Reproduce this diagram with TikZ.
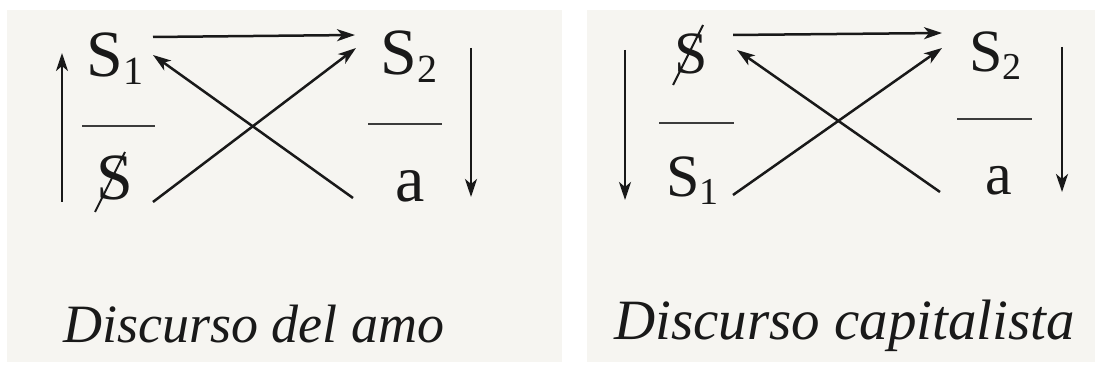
\documentclass[tikz,border=0pt]{standalone}
\usepackage{fontspec}
\setmainfont{Liberation Serif}
\usetikzlibrary{arrows.meta,calc}
\definecolor{paper}{RGB}{246,245,241}
\definecolor{inkc}{RGB}{25,25,25}
\newcommand\lacsubL[1]{\raisebox{-4pt}{\fontsize{20pt}{20pt}\selectfont #1}}
\newcommand\lacsubR[1]{\raisebox{-4pt}{\fontsize{19pt}{19pt}\selectfont #1}}
\begin{document}
\begin{tikzpicture}[x=0.5pt,y=-0.5pt,
  symL/.style={inner sep=0pt, anchor=base west, text=inkc, font=\fontsize{33pt}{33pt}\selectfont},
  symR/.style={inner sep=0pt, anchor=base west, text=inkc, font=\fontsize{30pt}{30pt}\selectfont},
  capL/.style={inner sep=0pt, anchor=base west, text=inkc, font=\fontsize{27pt}{27pt}\selectfont\itshape},
  capR/.style={inner sep=0pt, anchor=base west, text=inkc, font=\fontsize{28.5pt}{28.5pt}\selectfont\itshape},
  arr/.style={draw=inkc, line width=1.25pt, -{Stealth[length=9pt,width=6pt,inset=2.5pt]}},
  bar/.style={draw=inkc!85, line width=1.3pt},
  slash/.style={draw=inkc, line width=1pt}]
\useasboundingbox (0,0) rectangle (1095,367);
\fill[white] (0,0) rectangle (1095,367);
\fill[paper] (7,10) rectangle (562,362);
\fill[paper] (587,10) rectangle (1095,362);

% ---------- Discurso del amo ----------
\node[symL] (s1L) at (86,77) {S\lacsubL{1}};
\node[symL] (s2L) at (380,75) {S\lacsubL{2}};
\node[symL] (bsL) at (96,200) {S};
\node[symL] (aL) at (395,202) {a};
\draw[slash] ([shift={(-1,12)}]bsL.base west) -- ([shift={(29,-48)}]bsL.base west);
\draw[bar] (82,126) -- (155,126);
\draw[bar] (368,124) -- (442,124);
\draw[arr] ([shift={(67,-40)}]s1L.base west) -- ([shift={(-25,-40)}]s2L.base west);
\draw[arr] ([shift={(57,2)}]bsL.base west) -- ([shift={(-24,-27)}]s2L.base west);
\draw[arr] ([shift={(-42,-4)}]aL.base west) -- ([shift={(67,-22)}]s1L.base west);
\coordinate (upL0) at (62,202);
\coordinate (upL1) at (62,53);
\draw[arr] (upL0) -- (upL1);
\coordinate (dnL0) at (471,48);
\coordinate (dnL1) at (471,197);
\draw[arr] (dnL0) -- (dnL1);
\node[capL] (capL) at (63,343) {Discurso del amo};

% ---------- Discurso capitalista ----------
\node[symR] (bsR) at (674,74) {S};
\node[symR] (s2R) at (969,72) {S\lacsubR{2}};
\node[symR] (s1R) at (666,197) {S\lacsubR{1}};
\node[symR] (aR) at (985,195) {a};
\draw[slash] ([shift={(-1,11)}]bsR.base west) -- ([shift={(29,-49)}]bsR.base west);
\draw[bar] (659,123) -- (734,123);
\draw[bar] (957,119) -- (1032,119);
\draw[arr] ([shift={(59,-39)}]bsR.base west) -- ([shift={(-27,-39)}]s2R.base west);
\draw[arr] ([shift={(67,-2)}]s1R.base west) -- ([shift={(-27,-24)}]s2R.base west);
\draw[arr] ([shift={(-45,-3)}]aR.base west) -- ([shift={(63,-24)}]bsR.base west);
\coordinate (dnR0) at (625,50);
\coordinate (dnR1) at (625,200);
\draw[arr] (dnR0) -- (dnR1);
\coordinate (dnS0) at (1062,47);
\coordinate (dnS1) at (1062,192);
\draw[arr] (dnS0) -- (dnS1);
\node[capR] (capR) at (614,340) {Discurso capitalista};
\end{tikzpicture}
\end{document}
